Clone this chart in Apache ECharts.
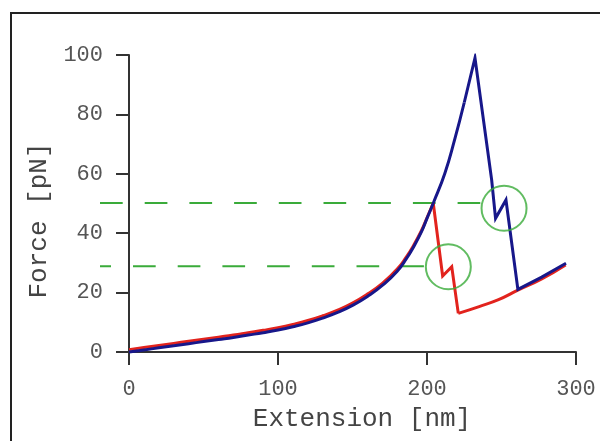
<!DOCTYPE html>
<html>
<head>
<meta charset="utf-8">
<script src="https://cdn.jsdelivr.net/npm/echarts@6/dist/echarts.min.js"></script>
<style>html,body{margin:0;padding:0;background:#fff}#c{width:600px;height:441px}</style>
</head>
<body>
<div id="c"></div>
<script>
// ---- data ----
const xTicks = [0, 100, 200, 300];
const yTicks = [0, 20, 40, 60, 80, 100];

// blue (navy) trace: smooth stretching part, then peak / rupture part
const blueRiseX = [0, 10, 20, 30, 40, 50, 60, 70, 80, 90, 100, 110, 120, 130, 140, 150, 160, 170, 180, 186.4, 190, 196.4, 200, 204.2, 212, 218.5, 225];
const blueRiseY = [0, 0.7, 1.4, 2.1, 2.8, 3.5, 4.2, 4.9, 5.7, 6.5, 7.4, 8.5, 9.8, 11.4, 13.3, 15.7, 18.7, 22.4, 27.2, 31.6, 34.5, 40.6, 45.0, 50.1, 60.2, 71.4, 84];
const blueTailX = [225, 232.2, 243.4, 246, 253, 261, 277, 293.3];
const blueTailY = [84, 99, 57.9, 45, 51.2, 21.1, 25.2, 29.9];

// red trace
const redRiseX = [0, 10, 20, 30, 40, 50, 60, 70, 80, 90, 100, 110, 120, 130, 140, 150, 160, 170, 180, 186.4, 190, 196.4, 200, 204.2];
const redRiseY = [0.8, 1.5, 2.2, 2.9, 3.6, 4.3, 5.0, 5.7, 6.5, 7.3, 8.2, 9.3, 10.6, 12.2, 14.1, 16.5, 19.5, 23.1, 27.9, 32.2, 35.0, 41.0, 45.2, 50.1];
const redDropX = [204.2, 210.5, 216.6, 221];
const redDropY = [50.1, 25.6, 28.7, 13];
const redTailX = [221, 235, 248, 261, 277, 293];
const redTailY = [13, 15.3, 17.6, 20.8, 24.6, 29.3];

// green guides and circles
const guideUpperX = [-19.5, 236.7];
const guideUpperY = [50.2, 50.2];
const guideLowerX = [-19.5, 198.7];
const guideLowerY = [28.9, 28.9];
const circleX = [214.3, 251.7];
const circleY = [28.7, 48.4];

const zip = (a, b) => a.map((v, i) => [v, b[i]]);

const FONT = '"Courier New", Courier, "Liberation Mono", monospace';
const GREEN = '#3aab3a';
const RED = '#e2231d';
const NAVY = '#17178a';
const axisCol = '#333';

const chart = echarts.init(document.getElementById('c'), null, {renderer: 'canvas'});
chart.setOption({
  animation: false,
  backgroundColor: '#fff',
  grid: [
    {left: 125, right: 24, top: 55, bottom: 85, outerBoundsMode: 'none'},
    {left: 100, right: 24, top: 55, bottom: 85, outerBoundsMode: 'none'}
  ],
  xAxis: [{
    type: 'value', min: -2.7, max: 300, gridIndex: 0,
    name: 'Extension [nm]', nameLocation: 'middle', nameGap: 50,
    nameTextStyle: {fontFamily: FONT, fontSize: 26, color: '#444', padding: [0, 0, 0, 23]},
    axisLine: {show: true, lineStyle: {color: axisCol, width: 2}},
    axisTick: {show: true, customValues: xTicks, length: 13, lineStyle: {color: axisCol, width: 2}},
    axisLabel: {customValues: xTicks, margin: 22, fontFamily: FONT, fontSize: 22, color: '#555'},
    splitLine: {show: false}
  }, {
    type: 'value', min: -19.5, max: 300, gridIndex: 1, show: false
  }],
  yAxis: [{
    type: 'value', min: -1.35, max: 100, gridIndex: 0,
    name: 'Force [pN]', nameLocation: 'middle', nameGap: 52,
    nameTextStyle: {fontFamily: FONT, fontSize: 26, color: '#444', padding: [0, 30, 0, 0]},
    axisLine: {show: true, lineStyle: {color: axisCol, width: 2}},
    axisTick: {show: true, customValues: yTicks, length: 13, lineStyle: {color: axisCol, width: 2}},
    axisLabel: {customValues: yTicks, margin: 22, fontFamily: FONT, fontSize: 22, color: '#555'},
    splitLine: {show: false}
  }, {
    type: 'value', min: -1.35, max: 100, gridIndex: 1, show: false
  }],
  graphic: [{
    type: 'rect', shape: {x: 11, y: 13, width: 620, height: 460},
    style: {fill: 'none', stroke: '#222', lineWidth: 2}, silent: true
  }],
  series: [
    {type: 'line', xAxisIndex: 1, yAxisIndex: 1, data: zip(guideUpperX, guideUpperY), showSymbol: false,
     lineStyle: {color: GREEN, width: 2, type: [22.7, 22]}, z: 1},
    {type: 'line', xAxisIndex: 1, yAxisIndex: 1, data: zip(guideLowerX, guideLowerY), showSymbol: false,
     lineStyle: {color: GREEN, width: 2, type: [22.7, 22], dashOffset: 11.7}, z: 1},
    {type: 'line', data: zip(redRiseX, redRiseY), showSymbol: false, smooth: 0.5,
     lineStyle: {color: RED, width: 3}, z: 2},
    {type: 'line', data: zip(redDropX, redDropY), showSymbol: false,
     lineStyle: {color: RED, width: 3, join: 'miter'}, z: 2},
    {type: 'line', data: zip(redTailX, redTailY), showSymbol: false, smooth: 0.5,
     lineStyle: {color: RED, width: 3}, z: 2},
    {type: 'line', data: zip(blueRiseX, blueRiseY), showSymbol: false, smooth: 0.5,
     lineStyle: {color: NAVY, width: 3}, z: 3},
    {type: 'line', data: zip(blueTailX, blueTailY), showSymbol: false,
     lineStyle: {color: NAVY, width: 3, join: 'miter'}, z: 3},
    {type: 'scatter', xAxisIndex: 1, yAxisIndex: 1, data: zip(circleX, circleY), symbol: 'circle', symbolSize: 45,
     itemStyle: {color: 'rgba(0,0,0,0)', borderColor: GREEN, borderWidth: 2}, z: 4}
  ]
});
</script>
</body>
</html>
